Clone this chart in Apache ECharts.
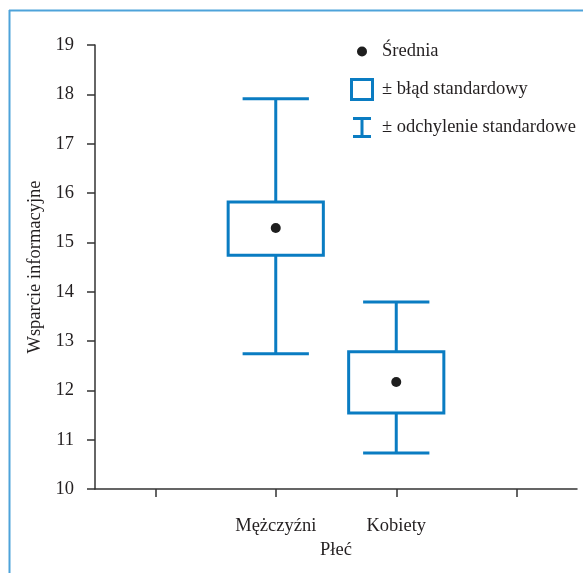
<!DOCTYPE html>
<html>
<head>
<meta charset="utf-8">
<script src="https://cdn.jsdelivr.net/npm/echarts@6/dist/echarts.min.js"></script>
<style>html,body{margin:0;padding:0;background:#fff}#c{width:583px;height:573px}</style>
</head>
<body>
<div id="c"></div>
<script>
var categories = ['', 'Mężczyźni', 'Kobiety', ''];
var groupIndex = [1, 2];
var means = [15.29, 12.17];
var seLow = [14.74, 11.54];
var seHigh = [15.82, 12.78];
var sdLow = [12.74, 10.73];
var sdHigh = [17.91, 13.79];
var yTicks = [10, 11, 12, 13, 14, 15, 16, 17, 18, 19];

var BLUE = '#0a7cc2';
var FONT = 'Liberation Serif';
var TXT = '#231f20';
var FS = 18.5;

var meanData = groupIndex.map(function (g, i) { return [g, means[i]]; });
var seData = groupIndex.map(function (g, i) { return [g, seLow[i], seHigh[i]]; });
var sdData = groupIndex.map(function (g, i) { return [g, sdLow[i], sdHigh[i]]; });

var chart = echarts.init(document.getElementById('c'));
chart.setOption({
  animation: false,
  backgroundColor: '#fff',
  graphic: [
    { type: 'line', shape: { x1: 9.5, y1: 10, x2: 9.5, y2: 573 }, style: { stroke: '#4ea3da', lineWidth: 2 }, silent: true },
    { type: 'line', shape: { x1: 9, y1: 10.5, x2: 583, y2: 10.5 }, style: { stroke: '#4ea3da', lineWidth: 2 }, silent: true }
  ],
  grid: { left: 95, right: 6, top: 45, bottom: 84, containLabel: false },
  legend: {
    orient: 'vertical', left: 350, top: 40, padding: 0,
    itemWidth: 24, itemHeight: 23, itemGap: 15, selectedMode: false,
    textStyle: { fontFamily: FONT, fontSize: FS, color: TXT, padding: [0, 0, 0, 3] },
    data: [
      { name: 'Średnia', icon: 'path://M0,0M24,23M7,11.5a5,5 0 1,0 10,0a5,5 0 1,0 -10,0z', itemStyle: { color: '#1e1e1e', opacity: 1 } },
      { name: '± błąd standardowy', icon: 'path://M0,0H24V23H0Z M3,3V20H21V3Z', itemStyle: { color: BLUE, opacity: 1 } },
      { name: '± odchylenie standardowe', icon: 'path://M0,0M24,23M3,1H21V4H13.5V19H21V22H3V19H10.5V4H3Z', itemStyle: { color: BLUE, opacity: 1 } }
    ]
  },
  xAxis: {
    type: 'category', data: categories, boundaryGap: true,
    name: 'Płeć', nameLocation: 'middle', nameGap: 52,
    nameTextStyle: { fontFamily: FONT, fontSize: FS, color: TXT },
    axisLine: { lineStyle: { color: '#333', width: 1.5 } },
    axisTick: { show: true, alignWithLabel: true, length: 8, lineStyle: { color: '#333', width: 1.5 } },
    axisLabel: { fontFamily: FONT, fontSize: FS, color: TXT, margin: 28, interval: 0 },
    splitLine: { show: false }
  },
  yAxis: {
    type: 'value', min: 10, max: 19, interval: 1,
    name: 'Wsparcie informacyjne', nameLocation: 'middle', nameGap: 50, nameRotate: 90,
    nameTextStyle: { fontFamily: FONT, fontSize: FS, color: TXT },
    axisLine: { show: true, lineStyle: { color: '#333', width: 1.5 } },
    axisTick: { show: true, length: 8, lineStyle: { color: '#333', width: 1.5 } },
    axisLabel: { fontFamily: FONT, fontSize: FS, color: TXT, margin: 21,
      formatter: function (v) { return yTicks.indexOf(v) >= 0 ? String(v) : ''; } },
    splitLine: { show: false }
  },
  series: [
    {
      name: '± odchylenie standardowe', type: 'custom', z: 2, data: sdData,
      itemStyle: { color: BLUE },
      renderItem: function (params, api) {
        var x = api.value(0);
        var lo = api.coord([x, api.value(1)]);
        var hi = api.coord([x, api.value(2)]);
        var hw = api.size([1, 0])[0] * 0.55 / 2;
        var st = { stroke: BLUE, lineWidth: 3, fill: null };
        return { type: 'group', children: [
          { type: 'line', shape: { x1: lo[0], y1: lo[1], x2: hi[0], y2: hi[1] }, style: st },
          { type: 'line', shape: { x1: lo[0] - hw, y1: lo[1], x2: lo[0] + hw, y2: lo[1] }, style: st },
          { type: 'line', shape: { x1: hi[0] - hw, y1: hi[1], x2: hi[0] + hw, y2: hi[1] }, style: st }
        ] };
      }
    },
    {
      name: '± błąd standardowy', type: 'custom', z: 3, data: seData,
      itemStyle: { color: BLUE },
      renderItem: function (params, api) {
        var x = api.value(0);
        var lo = api.coord([x, api.value(1)]);
        var hi = api.coord([x, api.value(2)]);
        var w = api.size([1, 0])[0] * 0.79;
        return { type: 'rect', shape: { x: lo[0] - w / 2, y: hi[1], width: w, height: lo[1] - hi[1] },
          style: { fill: '#fff', stroke: BLUE, lineWidth: 3 } };
      }
    },
    {
      name: 'Średnia', type: 'scatter', z: 4, data: meanData,
      symbol: 'circle', symbolSize: 10,
      itemStyle: { color: '#1e1e1e', opacity: 1 }
    }
  ]
});
</script>
</body>
</html>
